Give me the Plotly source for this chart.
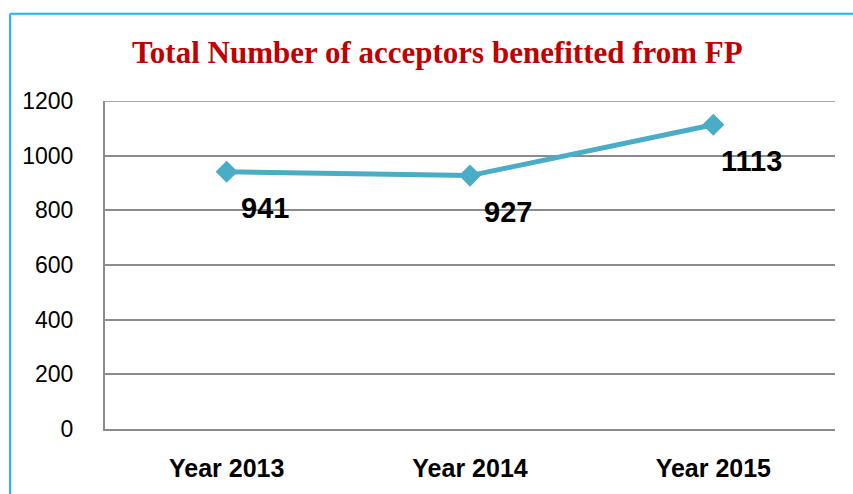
import plotly.graph_objects as go

categories = ["Year 2013", "Year 2014", "Year 2015"]
values = [941, 927, 1113]
y_ticks = [0, 200, 400, 600, 800, 1000, 1200]
title_text = "Total Number of acceptors benefitted from FP"

fig = go.Figure()
fig.add_trace(go.Scatter(
    x=categories, y=values, mode="lines+markers",
    line=dict(color="#4bacc6", width=5),
    marker=dict(symbol="diamond", size=17, color="#4bacc6"),
    hoverinfo="skip", showlegend=False,
))

for c, v in zip(categories, values):
    fig.add_annotation(x=c, y=v, text="<b>%d</b>" % v, showarrow=False,
                       xshift=38, yshift=-36,
                       font=dict(family="Liberation Sans, Arial", size=29, color="#000000"))

fig.add_annotation(xref="paper", yref="paper", x=0.455, y=1.148,
                   text="<b>%s</b>" % title_text, showarrow=False,
                   xanchor="center", yanchor="middle",
                   font=dict(family="Liberation Serif, DejaVu Serif", size=31, color="#c00000"))

# top gridline at the last tick (plotly hides grid lines on the range edge)
fig.add_shape(type="line", xref="paper", yref="y", x0=0, x1=1, y0=y_ticks[-1], y1=y_ticks[-1],
              line=dict(color="#8c8c8c", width=1.5), layer="below")

# outer chart border (light blue)
fig.add_shape(type="line", xref="paper", yref="paper", x0=-0.130, x1=-0.130, y0=-0.3, y1=1.266,
              line=dict(color="#1cb4f0", width=2))
fig.add_shape(type="line", xref="paper", yref="paper", x0=-0.130, x1=1.05, y0=1.266, y1=1.266,
              line=dict(color="#1cb4f0", width=2))

fig.update_layout(
    width=853, height=494,
    margin=dict(l=105, r=18, t=101, b=62),
    paper_bgcolor="white", plot_bgcolor="white",
    xaxis=dict(type="category", showgrid=False, showline=True, linecolor="#8c8c8c", linewidth=2,
               ticks="", tickfont=dict(family="Liberation Sans, Arial", size=25, color="#000000"),
               ticklabelstandoff=16, tickprefix="<b>", ticksuffix="</b>",
               range=[-0.5, 2.5], fixedrange=True),
    yaxis=dict(range=[0, 1200], tickvals=y_ticks, showgrid=True, gridcolor="#8c8c8c", gridwidth=1.5,
               showline=True, linecolor="#8c8c8c", linewidth=2, zeroline=False, ticks="",
               tickfont=dict(family="Liberation Sans, Arial", size=23, color="#000000"),
               ticklabelstandoff=25, fixedrange=True),
)

fig.write_html("out.html", config={"displayModeBar": False},
               post_script="document.body.style.margin='0';")
